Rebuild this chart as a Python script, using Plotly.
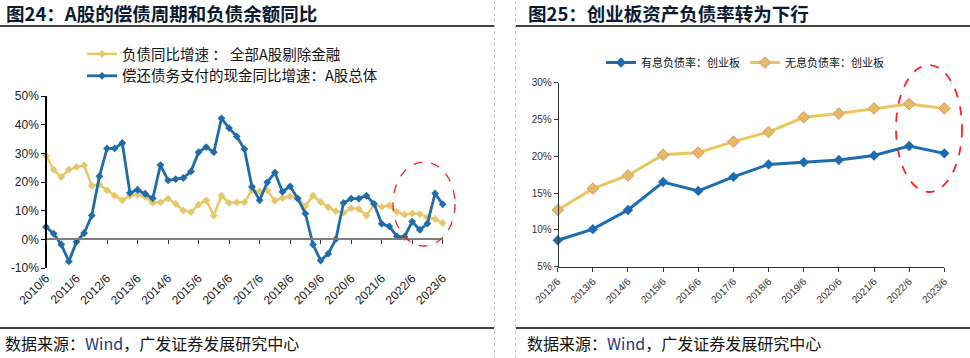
import plotly.graph_objects as go

W, H = 970, 358

# ---------------- data ----------------
left_quarters = []
for y in range(2010, 2024):
    for m in (3, 6, 9, 12):
        if (y == 2010 and m < 6) or (y == 2023 and m > 6):
            continue
        left_quarters.append(f"{y}/{m}")
left_tick_labels = [f"{y}/6" for y in range(2010, 2024)]

debt_growth = [29.2, 24.3, 21.7, 24.3, 25.2, 25.8, 18.7, 19.1, 17.1, 15.2,
               13.6, 15.2, 15.6, 14.8, 12.7, 12.9, 14.2, 12.4, 10.1, 9.5,
               12.1, 13.6, 8.3, 15.2, 12.7, 12.9, 12.9, 17.1, 16.7, 17.1,
               13.5, 14.4, 15.0, 14.4, 11.6, 15.2, 13.0, 11.2, 9.8, 9.2,
               10.9, 10.6, 8.3, 12.1, 11.3, 11.8, 9.6, 8.6, 9.0, 8.8,
               7.7, 7.1, 5.7]
repay_growth = [4.3, 2.0, -1.8, -7.7, -0.8, 2.2, 8.3, 22.0, 31.7, 31.7,
                33.6, 16.2, 17.3, 15.9, 14.3, 25.9, 20.6, 21.0, 21.4, 23.7,
                30.4, 32.2, 30.4, 42.2, 38.8, 35.9, 31.5, 18.3, 13.6, 19.9,
                23.3, 16.6, 18.5, 14.2, 9.0, -1.8, -7.4, -5.0, 0.1, 12.7,
                14.2, 14.2, 15.2, 12.4, 5.4, 4.5, 1.0, 0.9, 6.2, 3.3,
                5.5, 16.0, 12.2]
left_yticks = [-10, 0, 10, 20, 30, 40, 50]

right_years = [f"{y}/6" for y in range(2012, 2024)]
interest_debt = [8.6, 10.1, 12.7, 16.5, 15.3, 17.2, 18.9, 19.2, 19.5, 20.1, 21.4, 20.4]
noninterest_debt = [12.7, 15.6, 17.4, 20.2, 20.5, 22.0, 23.3, 25.3, 25.8, 26.5, 27.1, 26.5]
right_yticks = [5, 10, 15, 20, 25, 30]

name_debt = "负债同比增速 ： 全部A股剔除金融"
name_repay = "偿还债务支付的现金同比增速：A股总体"
name_int = "有息负债率：创业板"
name_nonint = "无息负债率：创业板"

# ---------------- style ----------------
BLUE = "#1E6CAB"
GOLD = "#E6C868"
R_BLUE = "#1B6DB0"
R_GOLD = "#E9C75C"
CJK = "Noto Sans CJK SC"
LAT = "Liberation Sans, Arial"


def px(x):
    return x / W


def py(y):
    return 1 - y / H


left_idx = list(range(len(left_quarters)))
left_tick_idx = [i for i, q in enumerate(left_quarters) if q.endswith("/6")]
right_idx = list(range(len(right_years)))

fig = go.Figure()

# empty trace so the bottom label axis (x3) gets drawn
fig.add_trace(go.Scatter(x=[left_idx[0]], y=[None], xaxis="x3", yaxis="y",
                         showlegend=False, hoverinfo="skip", mode="lines"))

fig.add_trace(go.Scatter(
    x=left_idx, y=debt_growth, name=name_debt, mode="lines+markers",
    line=dict(color=GOLD, width=2.5), marker=dict(symbol="diamond", size=6, color=GOLD),
    xaxis="x", yaxis="y", legend="legend", cliponaxis=False))
fig.add_trace(go.Scatter(
    x=left_idx, y=repay_growth, name=name_repay, mode="lines+markers",
    line=dict(color=BLUE, width=2.8), marker=dict(symbol="diamond", size=6, color=BLUE),
    xaxis="x", yaxis="y", legend="legend", cliponaxis=False))

fig.add_trace(go.Scatter(
    x=right_idx, y=interest_debt, name=name_int, mode="lines+markers",
    line=dict(color=R_BLUE, width=3), marker=dict(symbol="diamond", size=8, color=R_BLUE),
    xaxis="x2", yaxis="y2", legend="legend2", cliponaxis=False))
fig.add_trace(go.Scatter(
    x=right_idx, y=noninterest_debt, name=name_nonint, mode="lines+markers",
    line=dict(color=R_GOLD, width=3),
    marker=dict(symbol="diamond", size=9, color="#E2BC62", line=dict(color="#E0956E", width=1)),
    xaxis="x2", yaxis="y2", legend="legend2", cliponaxis=False))

# left panel geometry (pixels)
LX0, LX1 = 46, 442.7
LY_TOP, LY_BOT = 96, 268
zero_y = LY_BOT - (0 - (-10)) / 60 * (LY_BOT - LY_TOP)

# right panel geometry
RX0, RX1 = 557.7, 944.3
RY_TOP, RY_BOT = 82.7, 266.7

tickfont_l = dict(family=LAT, size=12, color="#222222")
tickfont_r = dict(family=LAT, size=10, color="#333333")

fig.update_layout(
    width=W, height=H, margin=dict(l=0, r=0, t=0, b=0, autoexpand=False),
    paper_bgcolor="white", plot_bgcolor="rgba(0,0,0,0)",
    showlegend=True,
    xaxis=dict(domain=[px(LX0), px(LX1)], range=[0, len(left_quarters) - 1],
               anchor="free", position=py(zero_y), automargin=False,
               showline=True, linecolor="#7F7F7F", linewidth=2,
               ticks="outside", ticklen=4, tickwidth=1, tickcolor="#333333",
               tickvals=left_tick_idx, showticklabels=False,
               showgrid=False, zeroline=False),
    xaxis3=dict(domain=[px(LX0), px(LX1)], range=[0, len(left_quarters) - 1],
                overlaying="x", anchor="free", position=py(LY_BOT), automargin=False,
                showline=False, ticks="", tickvals=left_tick_idx,
                ticktext=left_tick_labels, tickangle=-45, tickfont=tickfont_l,
                showgrid=False, zeroline=False),
    yaxis=dict(domain=[py(LY_BOT), py(LY_TOP)], range=[-10, 50],
               anchor="free", position=px(LX0), automargin=False,
               showline=True, linecolor="#000000", linewidth=1.5,
               ticks="outside", ticklen=4, tickcolor="#000000",
               tickvals=left_yticks, ticktext=[f"{v}%" for v in left_yticks],
               tickfont=tickfont_l, showgrid=False, zeroline=False),
    xaxis2=dict(domain=[px(RX0), px(RX1)], range=[0, len(right_years) - 1],
                anchor="y2", automargin=False,
                showline=True, linecolor="#333333", linewidth=1,
                ticks="outside", ticklen=4, tickcolor="#333333",
                tickvals=right_idx, ticktext=right_years, tickangle=-45,
                tickfont=tickfont_r, showgrid=False, zeroline=False),
    yaxis2=dict(domain=[py(RY_BOT), py(RY_TOP)], range=[5, 30],
                anchor="free", position=px(RX0), automargin=False,
                showline=True, linecolor="#333333", linewidth=1,
                ticks="outside", ticklen=4, tickcolor="#333333",
                tickvals=right_yticks, ticktext=[f"{v}%" for v in right_yticks],
                tickfont=tickfont_r, showgrid=False, zeroline=False),
    legend=dict(x=px(82), y=py(38), xanchor="left", yanchor="top",
                orientation="v", font=dict(family=CJK, size=14.5, color="#111111"),
                bgcolor="rgba(0,0,0,0)", itemwidth=30, tracegroupgap=0,
                traceorder="normal"),
    legend2=dict(x=px(601), y=py(48), xanchor="left", yanchor="top",
                 orientation="h", font=dict(family=CJK, size=11, color="#111111"),
                 bgcolor="rgba(0,0,0,0)", itemwidth=30),
)

shapes = []
# title rules and bottom rules
shapes.append(dict(type="line", xref="paper", yref="paper", x0=0, x1=px(494), y0=py(26), y1=py(26),
                   line=dict(color="#000000", width=1.5)))
shapes.append(dict(type="line", xref="paper", yref="paper", x0=px(516), x1=1, y0=py(26), y1=py(26),
                   line=dict(color="#000000", width=1.5)))
shapes.append(dict(type="line", xref="paper", yref="paper", x0=0, x1=px(494), y0=py(328), y1=py(328),
                   line=dict(color="#000000", width=1.5)))
shapes.append(dict(type="line", xref="paper", yref="paper", x0=px(516), x1=1, y0=py(328), y1=py(328),
                   line=dict(color="#000000", width=1.5)))
# dashed separators
for xv in (494.5, 515.5):
    shapes.append(dict(type="line", xref="paper", yref="paper", x0=px(xv), x1=px(xv), y0=0, y1=1,
                       line=dict(color="#C8C8C8", width=1, dash="dot")))
# red highlight ellipses
shapes.append(dict(type="circle", xref="paper", yref="paper",
                   x0=px(393), x1=px(455), y0=py(246), y1=py(162),
                   line=dict(color="#FF2020", width=1.3, dash="dash")))
shapes.append(dict(type="circle", xref="paper", yref="paper",
                   x0=px(896), x1=px(962), y0=py(192), y1=py(65),
                   line=dict(color="#FF2020", width=1.8, dash="dash")))
fig.update_layout(shapes=shapes)

annotations = [
    dict(text="图24：A股的偿债周期和负债余额同比", x=px(4), y=py(13), xref="paper", yref="paper",
         xanchor="left", yanchor="middle", showarrow=False,
         font=dict(family=CJK, size=18.5, color="#0B1A33", weight="bold")),
    dict(text="图25：创业板资产负债率转为下行", x=px(526), y=py(13), xref="paper", yref="paper",
         xanchor="left", yanchor="middle", showarrow=False,
         font=dict(family=CJK, size=18.5, color="#0B1A33", weight="bold")),
    dict(text="数据来源：<span style='color:#1F3A78'>Wind</span>，广发证券发展研究中心",
         x=px(3), y=py(343), xref="paper", yref="paper",
         xanchor="left", yanchor="middle", showarrow=False,
         font=dict(family=CJK, size=16, color="#111111")),
    dict(text="数据来源：<span style='color:#1F3A78'>Wind</span>，广发证券发展研究中心",
         x=px(525), y=py(343), xref="paper", yref="paper",
         xanchor="left", yanchor="middle", showarrow=False,
         font=dict(family=CJK, size=16, color="#111111")),
]
fig.update_layout(annotations=annotations)

fig.write_html(
    "out.html",
    config={"displayModeBar": False},
    post_script="document.body.style.margin='0';document.body.style.overflow='hidden';",
)
